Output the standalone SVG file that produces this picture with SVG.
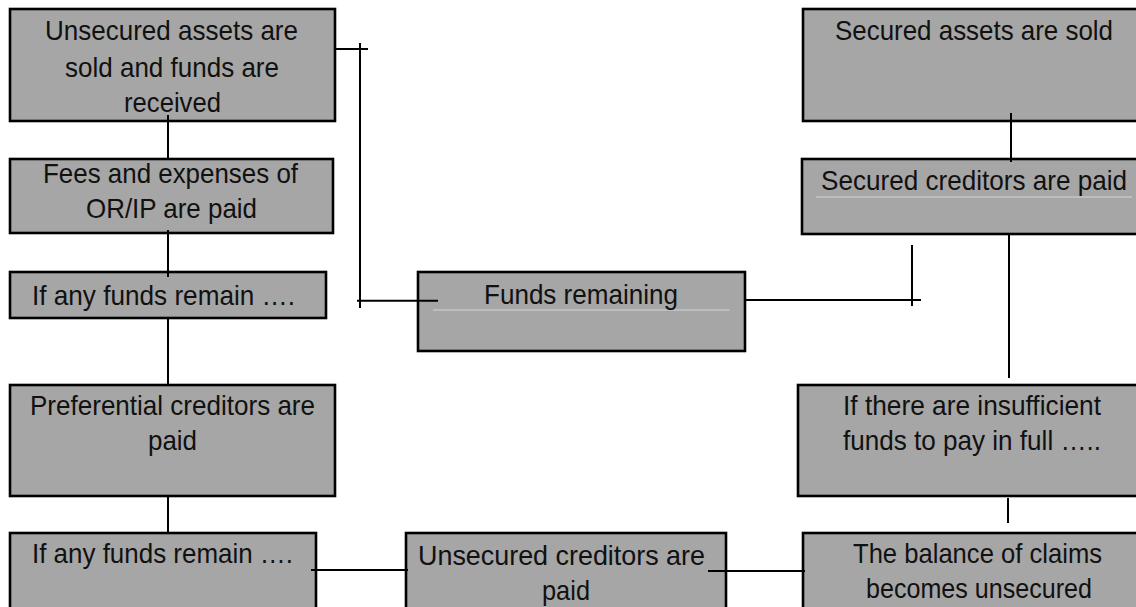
<svg xmlns="http://www.w3.org/2000/svg" width="1136" height="607" viewBox="0 0 1136 607">
<style>
.box{fill:#a6a6a6;stroke:#000;stroke-width:2.6}
.t{font-family:"Liberation Sans Narrow","Arial Narrow","Liberation Sans",sans-serif;font-size:28px;fill:#111}
.ln{stroke:#000;stroke-width:2;fill:none}
.hl{stroke:#d4d4d4;stroke-width:1.2}
</style>
<rect width="1136" height="607" fill="#fff"/>
<g id="n1"><rect class="box" x="10" y="9" width="325" height="112"/>
<text class="t" x="45" y="40" textLength="253" lengthAdjust="spacingAndGlyphs">Unsecured assets are</text>
<text class="t" x="65" y="77" textLength="214" lengthAdjust="spacingAndGlyphs">sold and funds are</text>
<text class="t" x="124" y="112" textLength="97" lengthAdjust="spacingAndGlyphs">received</text></g>
<g id="n2"><rect class="box" x="10" y="159" width="323" height="74"/>
<text class="t" x="43" y="183" textLength="255" lengthAdjust="spacingAndGlyphs">Fees and expenses of</text>
<text class="t" x="86" y="218" textLength="171" lengthAdjust="spacingAndGlyphs">OR/IP are paid</text></g>
<g id="n3"><rect class="box" x="10" y="272" width="316" height="46"/>
<text class="t" x="32" y="305" textLength="263" lengthAdjust="spacingAndGlyphs">If any funds remain ….</text></g>
<g id="n4"><rect class="box" x="10" y="385" width="325" height="111"/>
<text class="t" x="30" y="415" textLength="285" lengthAdjust="spacingAndGlyphs">Preferential creditors are</text>
<text class="t" x="148" y="450" textLength="49" lengthAdjust="spacingAndGlyphs">paid</text></g>
<g id="n5"><rect class="box" x="10" y="533" width="306" height="90"/>
<text class="t" x="32" y="563" textLength="261" lengthAdjust="spacingAndGlyphs">If any funds remain ….</text></g>
<g id="n6"><rect class="box" x="406" y="533" width="320" height="90"/>
<text class="t" x="418" y="565" textLength="287" lengthAdjust="spacingAndGlyphs">Unsecured creditors are</text>
<text class="t" x="542" y="600" textLength="48" lengthAdjust="spacingAndGlyphs">paid</text></g>
<g id="n7"><rect class="box" x="418" y="272" width="327" height="79"/>
<line class="hl" x1="433" y1="310" x2="730" y2="310"/>
<text class="t" x="484" y="304" textLength="194" lengthAdjust="spacingAndGlyphs">Funds remaining</text></g>
<g id="n8"><rect class="box" x="803" y="9" width="345" height="112"/>
<text class="t" x="835" y="40" textLength="278" lengthAdjust="spacingAndGlyphs">Secured assets are sold</text></g>
<g id="n9"><rect class="box" x="802" y="159" width="346" height="75"/>
<line class="hl" x1="816" y1="197" x2="1132" y2="197"/>
<text class="t" x="821" y="190" textLength="306" lengthAdjust="spacingAndGlyphs">Secured creditors are paid</text></g>
<g id="n10"><rect class="box" x="798" y="385" width="350" height="111"/>
<text class="t" x="843" y="415" textLength="258" lengthAdjust="spacingAndGlyphs">If there are insufficient</text>
<text class="t" x="843" y="450" textLength="258" lengthAdjust="spacingAndGlyphs">funds to pay in full …..</text></g>
<g id="n11"><rect class="box" x="803" y="533" width="345" height="90"/>
<text class="t" x="853" y="563" textLength="249" lengthAdjust="spacingAndGlyphs">The balance of claims</text>
<text class="t" x="866" y="598" textLength="226" lengthAdjust="spacingAndGlyphs">becomes unsecured</text></g>
<g id="connectors">
<path class="ln" d="M168 115V158M168 230V277M168 318V384M168 497V532"/>
<path class="ln" d="M335 49H368M360 43V308M357 300.7H438"/>
<path class="ln" d="M745 300H921M912 245V306"/>
<path class="ln" d="M1011 113V162M1009 235V378M1008 498V523"/>
<path class="ln" d="M311 570H408M708 571H805"/>
</g>
</svg>
